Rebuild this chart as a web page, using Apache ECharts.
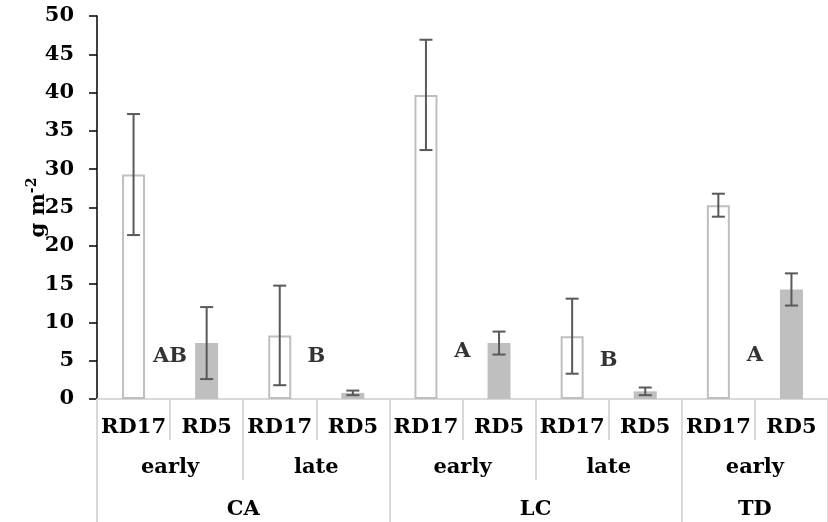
<!DOCTYPE html>
<html>
<head>
<meta charset="utf-8">
<script src="https://cdn.jsdelivr.net/npm/echarts@6/dist/echarts.min.js"></script>
<style>html,body{margin:0;padding:0;background:#fff}#c{width:828px;height:522px}</style>
</head>
<body>
<div id="c"></div>
<script>
const categories = ['RD17','RD5','RD17','RD5','RD17','RD5','RD17','RD5','RD17','RD5'];
const timingLabels = ['early','late','early','late','early'];
const timingSpan = [2,2,2,2,2];
const siteLabels = ['CA','LC','TD'];
const siteSpan = [4,4,2];
const values = [29.3, 7.3, 8.3, 0.8, 39.7, 7.3, 8.2, 1.0, 25.3, 14.3];
const errors = [7.9, 4.7, 6.5, 0.3, 7.2, 1.5, 4.9, 0.5, 1.5, 2.1];
const letters = ['AB','B','A','B','A'];
const letterCat = [1,3,5,7,9];
const letterY = [5.5, 5.6, 6.2, 5.0, 5.7];
const yTicks = [0,5,10,15,20,25,30,35,40,45,50];

const FONT = '"DejaVu Serif", "Liberation Serif", serif';
const GRAY = '#d9d9d9';

function groups(labels, spans){
  const bounds=[0], centers=[], map={};
  let acc=0;
  spans.forEach((s,i)=>{ centers.push(acc+s/2); map[acc+s/2]=labels[i]; acc+=s; bounds.push(acc); });
  return {bounds, centers, map};
}
const tg = groups(timingLabels, timingSpan);
const sg = groups(siteLabels, siteSpan);

const chart = echarts.init(document.getElementById('c'), null, {renderer:'canvas'});
const labelStyle = {fontFamily: FONT, fontWeight:'bold', fontSize:21, color:'#000'};

const barData = values.map((v,i)=>({
  value: v,
  itemStyle: categories[i]==='RD17'
    ? {color:'#ffffff', borderColor:'#bfbfbf', borderWidth:2}
    : {color:'#bfbfbf', borderColor:'#bfbfbf', borderWidth:0}
}));
const errData = values.map((v,i)=>[i, v-errors[i], v+errors[i]]);

chart.setOption({
  animation:false,
  grid:{left:97, right:-6, top:16, bottom:123, containLabel:false},
  xAxis:[
    {type:'category', data:categories, position:'bottom', offset:0,
     axisLine:{show:true, lineStyle:{color:GRAY, width:2}},
     axisTick:{show:true, interval:0, length:41, lineStyle:{color:GRAY, width:2}},
     axisLabel:{...labelStyle, interval:0, margin:18},
     splitLine:{show:false}},
    {type:'value', min:0, max:10, position:'bottom', offset:0,
     axisLine:{show:false},
     axisTick:{show:true, customValues:tg.bounds, length:81, lineStyle:{color:GRAY, width:2}},
     axisLabel:{...labelStyle, customValues:tg.centers, margin:58, formatter:v=>tg.map[v]||''},
     splitLine:{show:false}},
    {type:'value', min:0, max:10, position:'bottom', offset:0,
     axisLine:{show:false},
     axisTick:{show:true, customValues:sg.bounds, length:124, lineStyle:{color:GRAY, width:2}},
     axisLabel:{...labelStyle, customValues:sg.centers, margin:100, formatter:v=>sg.map[v]||''},
     splitLine:{show:false}}
  ],
  yAxis:{type:'value', min:0, max:50, interval:5,
    axisLine:{show:true, lineStyle:{color:'#000', width:1.5}},
    axisTick:{show:true, length:8, lineStyle:{color:'#000', width:1.5}},
    axisLabel:{...labelStyle, margin:23},
    splitLine:{show:false},
    name:'{b|g m}{s|-2}', nameLocation:'middle', nameRotate:90, nameGap:48,
    nameMoveOverlap:false,
    nameTextStyle:{rich:{
      b:{fontFamily:FONT, fontWeight:'bold', fontSize:21, color:'#000', verticalAlign:'bottom'},
      s:{fontFamily:FONT, fontWeight:'bold', fontSize:14, color:'#000', verticalAlign:'top', padding:[0,0,10,0]}
    }}
  },
  series:[
    {type:'bar', xAxisIndex:0, data:barData, barWidth:23, z:2},
    {type:'custom', xAxisIndex:0, data:errData, z:5,
     renderItem:function(params, api){
       const x = api.value(0);
       const lo = api.coord([x, api.value(1)]);
       const hi = api.coord([x, api.value(2)]);
       const w = 6.5;
       const st = {stroke:'#595959', lineWidth:2};
       return {type:'group', children:[
         {type:'line', shape:{x1:hi[0], y1:hi[1], x2:lo[0], y2:lo[1]}, style:st},
         {type:'line', shape:{x1:hi[0]-w, y1:hi[1], x2:hi[0]+w, y2:hi[1]}, style:st},
         {type:'line', shape:{x1:lo[0]-w, y1:lo[1], x2:lo[0]+w, y2:lo[1]}, style:st}
       ]};
     }},
    {type:'scatter', xAxisIndex:1, symbolSize:0, z:6,
     data:letters.map((t,i)=>({value:[letterCat[i], letterY[i]], name:t})),
     label:{show:true, position:'inside', formatter:p=>p.name, ...labelStyle}}
  ]
});
</script>
</body>
</html>
